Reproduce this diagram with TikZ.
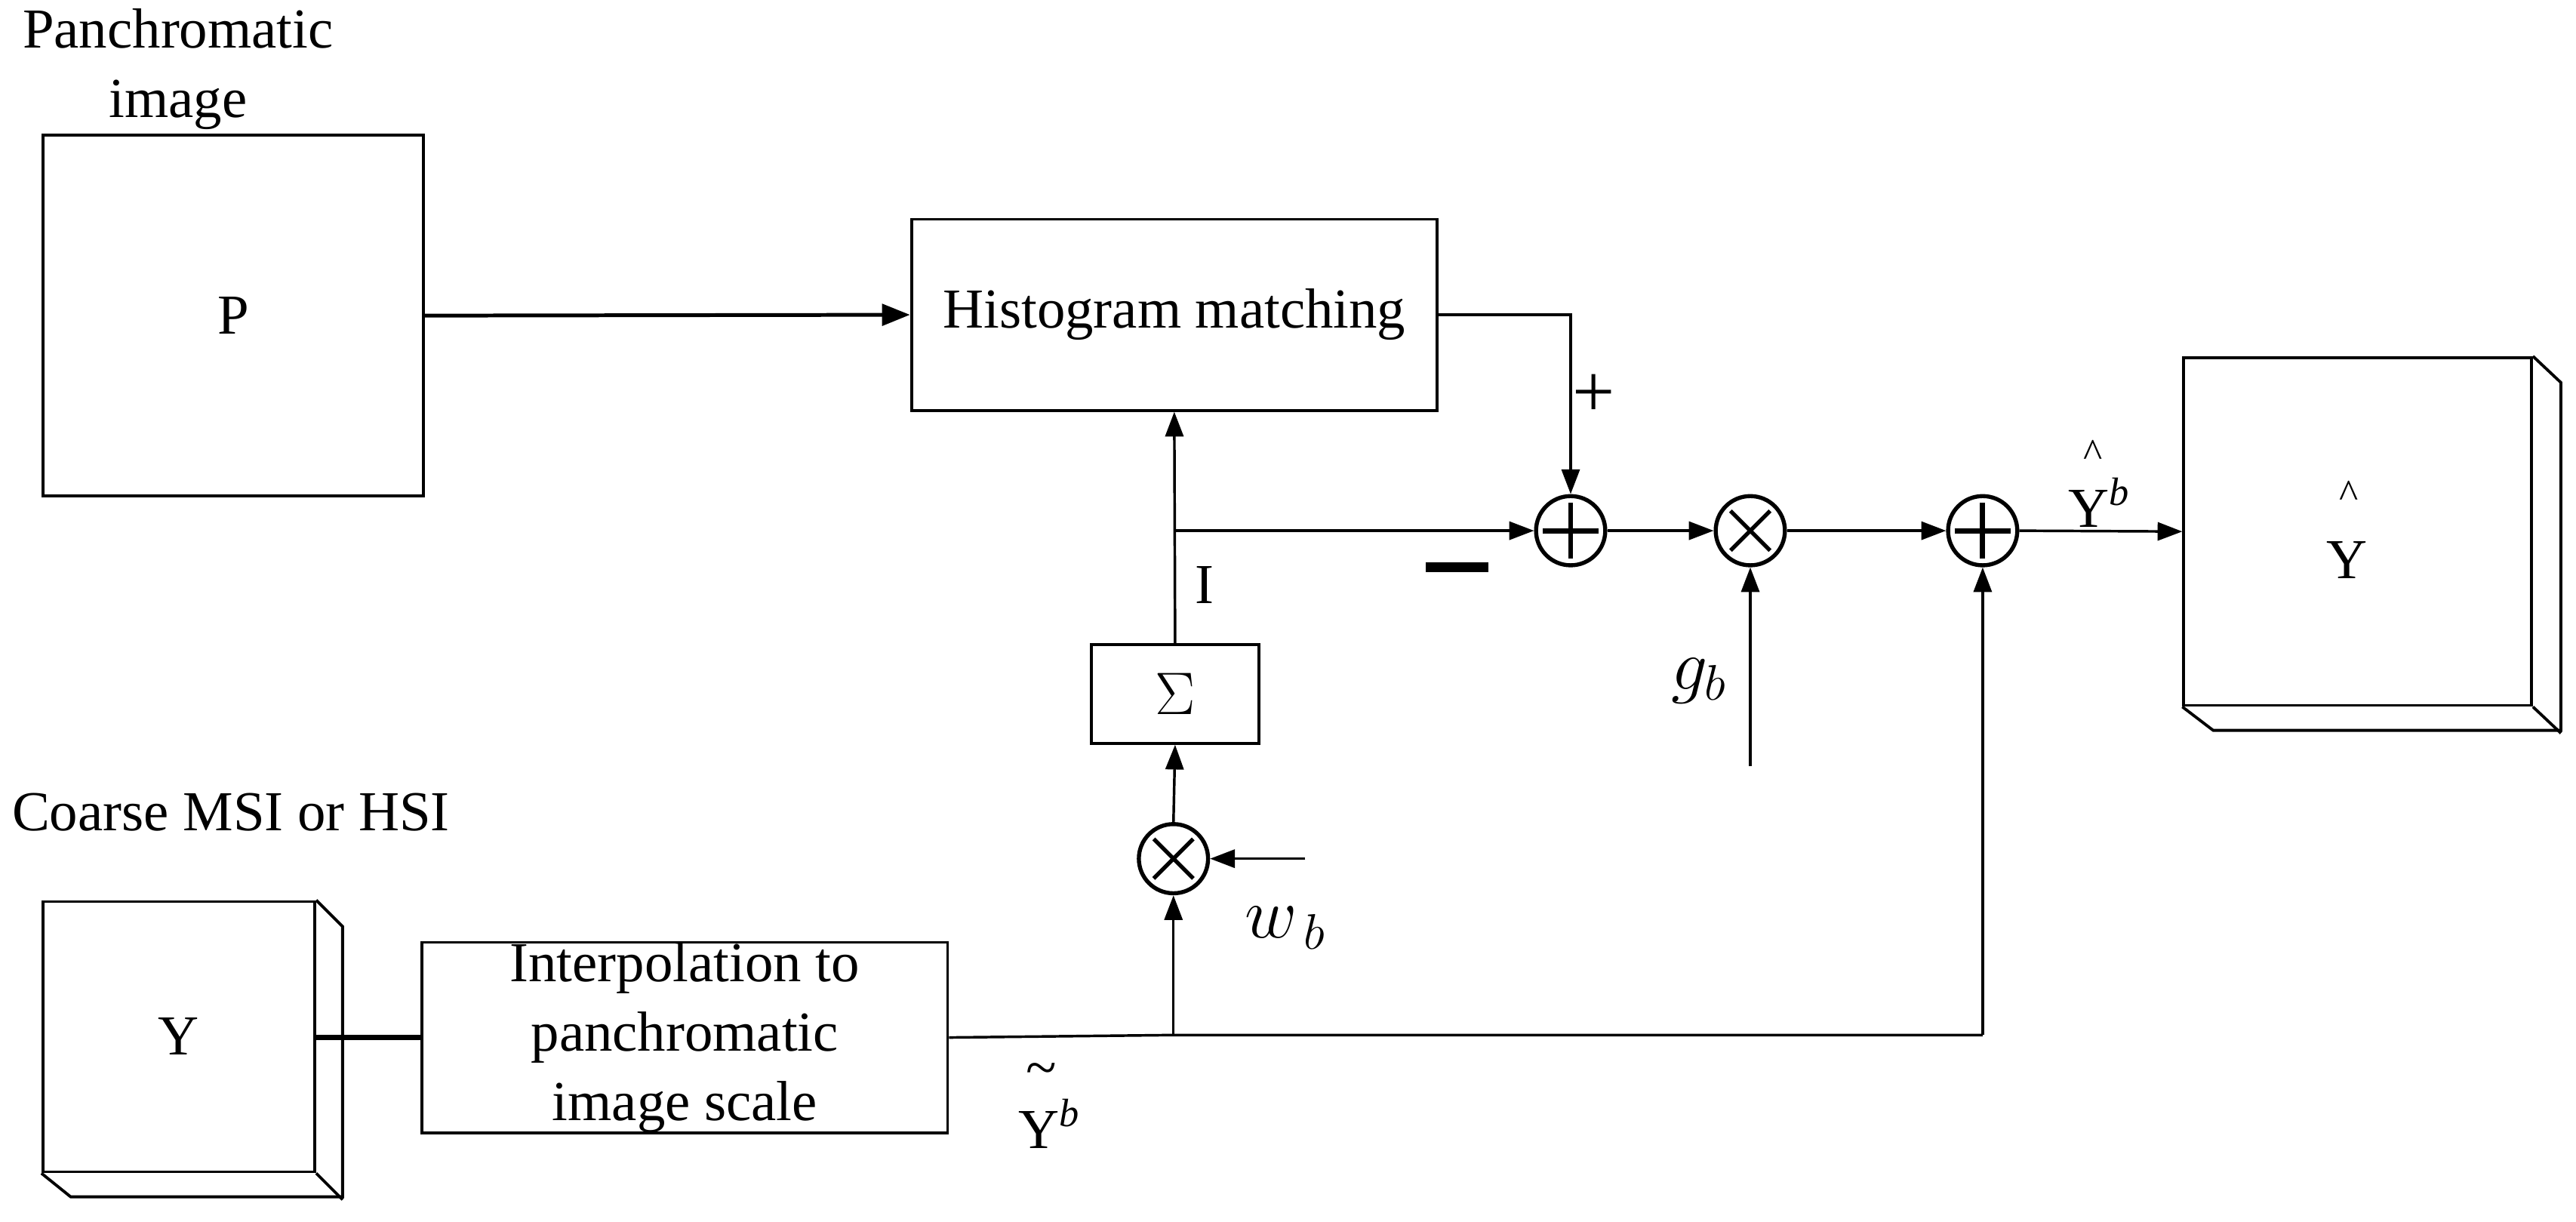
\documentclass[tikz,border=0pt]{standalone}
\usepackage{fontspec}
\setmainfont{Liberation Serif}
\usetikzlibrary{arrows.meta,calc}
\begin{document}
\begin{tikzpicture}[x=0.02cm,y=-0.02cm,
  font=\fontsize{19.5}{24}\selectfont,
  box/.style={draw,line width=1pt,inner sep=0pt,align=center},
  arr/.style={line width=0.9pt,-{Triangle[length=0.3cm,width=0.22cm]}},
  ln/.style={line width=0.9pt},
  opnode/.style={circle,draw,line width=1.4pt,minimum size=0.84cm,inner sep=0pt},
  sumnode/.style={opnode,path picture={\draw[line width=1.8pt]
     ($(path picture bounding box.center)+(-0.34cm,0)$)--($(path picture bounding box.center)+(0.34cm,0)$)
     ($(path picture bounding box.center)+(0,-0.34cm)$)--($(path picture bounding box.center)+(0,0.34cm)$);}},
  mulnode/.style={opnode,path picture={\draw[line width=1.4pt]
     ($(path picture bounding box.center)+(-0.24cm,-0.24cm)$)--($(path picture bounding box.center)+(0.24cm,0.24cm)$)
     ($(path picture bounding box.center)+(-0.24cm,0.24cm)$)--($(path picture bounding box.center)+(0.24cm,-0.24cm)$);}},
  lbl/.style={inner sep=0pt}
]
\useasboundingbox (0,0) rectangle (1563,741.4);
% boxes
\node[box,minimum width=4.62cm,minimum height=4.38cm] (P) at (141.5,191.5) {P};
\node[lbl,align=center] (ptitle) at (108,42) {Panchromatic\\image};
\node[box,minimum width=6.38cm,minimum height=2.32cm] (H) at (712.5,191) {Histogram matching};
\node[box,minimum width=2.04cm,minimum height=1.2cm] (S) at (713,421) {$\Sigma$};
\node[box,minimum width=6.38cm,minimum height=2.3cm] (I) at (415.5,629.5) {Interpolation to\\panchromatic\\image scale};
\node[box,minimum width=3.3cm,minimum height=3.28cm] (Y) at (108.5,629) {Y};
\draw[line width=1pt] (Y.north east) -- ++(16,16) -- ++(0,164) -- ++(-165,0) -- (Y.south west);
\draw[line width=1pt] (Y.south east) -- ++(16,16);
\node[lbl,anchor=west] (ctitle) at (7,493) {Coarse MSI or HSI};
\node[box,minimum width=4.22cm,minimum height=4.22cm] (Yh) at (1430.5,322.5) {};
\draw[line width=1pt] (Yh.north east) -- ++(17,16) -- ++(0,211) -- ++(-211,0) -- (Yh.south west);
\draw[line width=1pt] (Yh.south east) -- ++(17,16);
\node[lbl] (yhl) at (1424,340) {Y};
\node[lbl,font=\fontsize{14}{14}\selectfont] (yhc) at (1425,300) {\^{}};
% operators
\node[sumnode] (s1) at (953,322) {};
\node[mulnode] (m1) at (1062,322) {};
\node[sumnode] (s2) at (1203,322) {};
\node[mulnode] (mw) at (712,521) {};
% coordinates
\coordinate (br) at (712,322);
\coordinate (jn) at (712,628);
\coordinate (gin) at (1062,465);
\coordinate (win) at (792,521);
\coordinate (bc) at (1203,628);
% connectors
\draw[line width=1.3pt,-{Triangle[length=0.34cm,width=0.26cm]}] (P.east) -- (H.west);
\draw[arr] (H.east) -| (s1.north);
\draw[arr] (S.north) -- (H.south);
\draw[arr] (br) -- (s1.west);
\draw[arr] (mw.north) -- (S.south);
\draw[arr] (win) -- (mw.east);
\draw[arr] (jn) -- (mw.south);
\draw[line width=2pt] (Y.east |- I.west) -- (I.west);
\draw[ln] (I.east) -- (jn) -- (bc);
\draw[arr] (bc) -- (s2.south);
\draw[arr] (gin) -- (m1.south);
\draw[arr] (s1.east) -- (m1.west);
\draw[arr] (m1.east) -- (s2.west);
\draw[arr] (s2.east) -- (Yh.west);
% labels
\node[lbl,font=\fontsize{26}{26}\selectfont] (plus) at (967,240) {+};
\node[lbl] (minus) at (884,344) {\rule{0.76cm}{0.12cm}};
\node[lbl] (Il) at (731,355) {I};
\node[lbl,font=\fontsize{24}{24}\selectfont] (gl) at (1031,413) {$g_b$};
\node[lbl,font=\fontsize{24}{24}\selectfont] (wl) at (780,563) {$w_{\,b}$};
\node[lbl] (ytl) at (637,682) {Y\textsuperscript{\itshape b}};
\node[lbl] (ytc) at (632,652) {\~{}};
\node[lbl] (yhb) at (1274,305) {Y\textsuperscript{\itshape b}};
\node[lbl,font=\fontsize{14}{14}\selectfont] (yhbc) at (1270,275) {\^{}};
\end{tikzpicture}
\end{document}
